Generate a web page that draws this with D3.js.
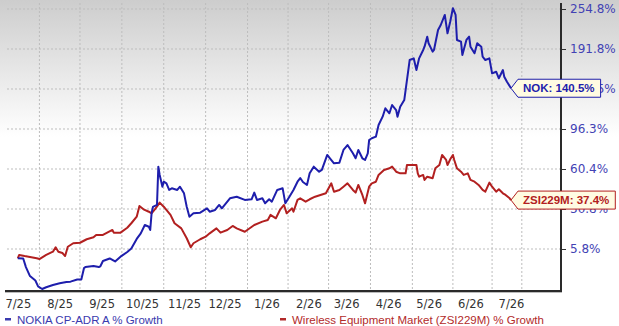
<!DOCTYPE html>
<html><head><meta charset="utf-8">
<script src="https://cdn.jsdelivr.net/npm/d3@7"></script>
<style>body{margin:0;background:#fff}svg{display:block}</style>
</head><body>
<svg id="c" width="619" height="326"></svg>
<script>
// ---------- data ----------
const startDate = "2025-07-01";
const yTicks = [5.8, 30.8, 60.4, 96.3, 139.5, 191.8, 254.8];
const monthLabels = ["7/25","8/25","9/25","10/25","11/25","12/25","1/26","2/26","3/26","4/26","5/26","6/26","7/26"];
const labelDates = ["2025-07-01","2025-08-01","2025-09-01","2025-10-01","2025-11-01","2025-12-01","2026-01-01","2026-02-01","2026-03-01","2026-04-01","2026-05-01","2026-06-01","2026-07-01"];
const gridDates = ["2025-07-17","2025-08-16","2025-09-16","2025-10-17","2025-11-17","2025-12-18","2026-01-17","2026-02-16","2026-03-19","2026-04-19","2026-05-19","2026-06-17","2026-07-09"];

const nokName = "NOKIA CP-ADR A % Growth";
const zsiName = "Wireless Equipment Market (ZSI229M) % Growth";
const nokTag = "NOK";
const zsiTag = "ZSI229M";

// day offsets from startDate and % growth values
const nokDays = [0,4,6,9,13,15,18,21,26,31,36,39,44,47,49,50,56,60,61,63,68,72,76,81,84,88,91,94,97,98,99,100,103,104,105,107,108,110,112,114,118,120,123,125,127,130,135,140,142,146,149,151,157,162,168,173,175,177,181,183,186,188,192,196,198,201,204,207,209,211,214,216,219,223,225,229,231,234,238,241,244,248,250,252,255,257,259,260,262,265,267,270,272,275,277,280,281,283,286,287,290,293,295,297,300,301,303,304,307,308,311,313,316,318,320,322,324,325,328,329,332,334,335,338,340,343,344,346,349,351,354,356,359,360,362,365];
const nokPct = [0.0,-0.1,-5.5,-11.1,-13.9,-17.6,-19.2,-18.1,-16.7,-15.6,-14.8,-14.6,-13.3,-13.3,-6.1,-5.5,-4.8,-5.5,-5.1,-1.7,-0.1,-2.0,1.0,3.9,6.1,12.1,15.6,20.8,19.7,17.7,28.1,32.3,33.8,62.5,56.0,47.3,51.0,49.8,44.9,46.1,44.9,47.3,42.4,32.5,26.0,28.1,28.5,31.3,29.1,30.2,33.8,31.3,38.7,39.9,37.5,38.0,42.9,37.5,38.7,35.0,38.0,36.2,44.9,46.1,35.0,39.9,44.9,51.0,53.7,50.8,48.6,57.2,62.5,58.4,59.7,73.0,70.0,65.5,66.1,77.5,81.9,74.5,70.0,77.5,70.0,68.5,74.5,86.4,88.0,89.4,100.6,109.6,118.7,113.3,122.2,116.8,109.6,120.4,127.6,138.4,177.4,179.6,164.3,179.6,190.5,195.4,211.2,200.8,188.3,190.5,221.7,229.6,245.4,216.5,234.8,256.0,245.4,206.0,203.3,184.0,206.0,211.2,195.4,186.2,200.8,195.4,181.7,177.4,179.6,160.0,162.1,153.5,164.3,155.6,149.0,140.5];

const zsiDays = [0,1,5,14,16,21,26,28,30,33,35,37,41,46,51,56,58,63,70,71,76,81,84,88,90,93,97,99,102,105,108,113,116,121,125,128,130,135,139,142,147,150,155,159,162,168,175,181,185,187,191,194,197,199,203,204,207,209,213,216,220,224,228,230,232,234,238,241,244,248,250,252,255,257,260,262,265,267,271,275,277,280,283,287,288,292,295,296,297,300,301,303,307,309,312,314,317,318,320,322,323,325,328,330,333,335,338,341,344,346,349,351,354,356,359,361,364,365];
const zsiPct = [0.0,2.1,1.4,0.0,-0.5,2.1,4.1,6.9,4.1,3.3,1.4,7.2,9.4,9.7,11.9,13.1,14.6,14.6,17.7,16.0,16.0,19.1,21.9,26.0,33.0,30.6,29.1,28.1,31.3,35.5,32.5,27.1,21.9,18.7,12.5,6.9,9.4,11.9,13.5,15.6,18.7,16.0,17.7,20.2,18.7,16.6,20.8,22.9,23.9,27.1,25.0,30.2,33.8,28.1,31.3,29.1,37.5,38.7,36.2,38.0,39.9,41.2,42.4,46.1,49.8,43.6,44.9,47.3,49.8,44.9,42.9,48.6,41.2,35.0,47.3,49.8,51.0,56.0,59.7,61.0,62.5,58.4,57.2,57.2,64.0,64.0,64.0,57.2,54.7,56.0,52.3,54.7,53.5,61.0,64.0,73.0,68.5,64.0,69.1,73.0,68.5,61.0,58.4,56.0,57.2,52.3,51.0,48.6,44.9,43.6,50.3,47.3,43.6,45.4,42.4,41.2,38.7,37.4];

// ---------- layout ----------
const W = 619, H = 326;
const plotL = 7, plotR = 561, plotT = 3, plotB = 291;
const tickBottom = 249, tickStep = 40;
const blue = "#1e1eac", red = "#b22020";

const svg = d3.select("#c");
const parse = d3.timeParse("%Y-%m-%d");
const t0 = parse(startDate);
const toDate = d => d3.timeDay.offset(t0, d);

const x = d3.scaleTime()
  .domain([d3.timeDay.offset(t0, -8), d3.timeDay.offset(t0, 402)])
  .range([plotL, plotR]);
const y = d3.scaleLinear()
  .domain(yTicks)
  .range(yTicks.map((d, i) => tickBottom - i * tickStep));

// background gradient
const defs = svg.append("defs");
const g = defs.append("linearGradient").attr("id", "bg").attr("x1", 0).attr("y1", 0).attr("x2", 0).attr("y2", 1);
g.append("stop").attr("offset", "0").attr("stop-color", "#cdcdcd");
g.append("stop").attr("offset", "0.42").attr("stop-color", "#ffffff");
g.append("stop").attr("offset", "1").attr("stop-color", "#ffffff");
svg.append("rect").attr("width", W).attr("height", H).attr("fill", "url(#bg)");

// horizontal grid
svg.append("g").selectAll("line").data(yTicks).join("line")
  .attr("x1", plotL).attr("x2", plotR)
  .attr("y1", d => y(d)).attr("y2", d => y(d))
  .attr("stroke", "#bdbdbd").attr("stroke-width", 1).attr("stroke-dasharray", "2,2");
// vertical grid
svg.append("g").selectAll("line").data(gridDates.map(parse)).join("line")
  .attr("x1", d => x(d)).attr("x2", d => x(d))
  .attr("y1", plotT).attr("y2", plotB)
  .attr("stroke", "#bdbdbd").attr("stroke-width", 1).attr("stroke-dasharray", "2,2");

// series
const zsi = zsiDays.map((d, i) => ({ date: toDate(d), v: zsiPct[i] }));
const nok = nokDays.map((d, i) => ({ date: toDate(d), v: nokPct[i] }));
const line = d3.line().x(d => x(d.date)).y(d => y(d.v));
svg.append("path").datum(zsi).attr("d", line).attr("fill", "none")
  .attr("stroke", red).attr("stroke-width", 2).attr("stroke-linejoin", "round");
svg.append("path").datum(nok).attr("d", line).attr("fill", "none")
  .attr("stroke", blue).attr("stroke-width", 2).attr("stroke-linejoin", "round");

// right axis
const ya = svg.append("g").attr("transform", `translate(${plotR},0)`)
  .call(d3.axisRight(y).tickValues(yTicks).tickSize(5).tickPadding(4).tickFormat(d => d.toFixed(1) + "%"));
ya.select(".domain").remove();
ya.selectAll(".tick line").attr("stroke", "#333");
ya.selectAll(".tick text").attr("fill", "#4242b4").style("font-family", "'DejaVu Sans', Verdana, sans-serif").style("font-size", "12px");
svg.append("line").attr("x1", plotR).attr("x2", plotR).attr("y1", plotT).attr("y2", plotB + 1)
  .attr("stroke", "#2a2a2a").attr("stroke-width", 2);

// bottom axis
const xa = svg.append("g").attr("transform", `translate(0,${plotB})`)
  .call(d3.axisBottom(x).tickValues(labelDates.map(parse)).tickSize(0).tickPadding(9)
    .tickFormat((d, i) => monthLabels[i]));
xa.select(".domain").remove();
xa.selectAll(".tick text").attr("fill", "#333").style("font-family", "'DejaVu Sans', Verdana, sans-serif").style("font-size", "11.5px");
svg.append("line").attr("x1", plotL - 2).attr("x2", plotR + 1).attr("y1", plotB + 1).attr("y2", plotB + 1)
  .attr("stroke", "#bbb").attr("stroke-width", 2);
svg.append("line").attr("x1", plotL - 2).attr("x2", plotR + 1).attr("y1", plotB).attr("y2", plotB)
  .attr("stroke", "#2a2a2a").attr("stroke-width", 2);

// end tags
function tag(last, text, color) {
  const px = x(last.date), py = y(last.v);
  const gg = svg.append("g");
  const path = gg.append("path");
  const t = gg.append("text").attr("x", px + 12).attr("y", py + 4)
    .attr("fill", color).style("font-family", "'Liberation Sans', Arial, sans-serif")
    .style("font-size", "11.5px").style("font-weight", "bold").text(text);
  const w = t.node().getComputedTextLength();
  const r = px + 12 + w + 6, h = 9;
  path.attr("d", `M${px},${py}L${px + 7},${py - h}L${r},${py - h}L${r},${py + h}L${px + 7},${py + h}Z`)
    .attr("fill", "#fffbe2").attr("stroke", color).attr("stroke-width", 1);
}
tag(nok[nok.length - 1], `${nokTag}: ${nokPct[nokPct.length - 1].toFixed(1)}%`, blue);
tag(zsi[zsi.length - 1], `${zsiTag}: ${zsiPct[zsiPct.length - 1].toFixed(1)}%`, red);

// legend
const legend = [{ name: nokName, color: "#3a3aae", dx: 5 }, { name: zsiName, color: "#b22a2a", dx: 280 }];
const lg = svg.append("g").selectAll("g").data(legend).join("g")
  .attr("transform", d => `translate(${d.dx},320)`);
lg.append("rect").attr("x", 0).attr("y", -2).attr("width", 6).attr("height", 2.5).attr("fill", d => d.color);
lg.append("text").attr("x", 12).attr("y", 4).attr("fill", d => d.color)
  .style("font-family", "'Liberation Sans', Arial, sans-serif").style("font-size", "11.5px").text(d => d.name);
</script>
</body></html>
